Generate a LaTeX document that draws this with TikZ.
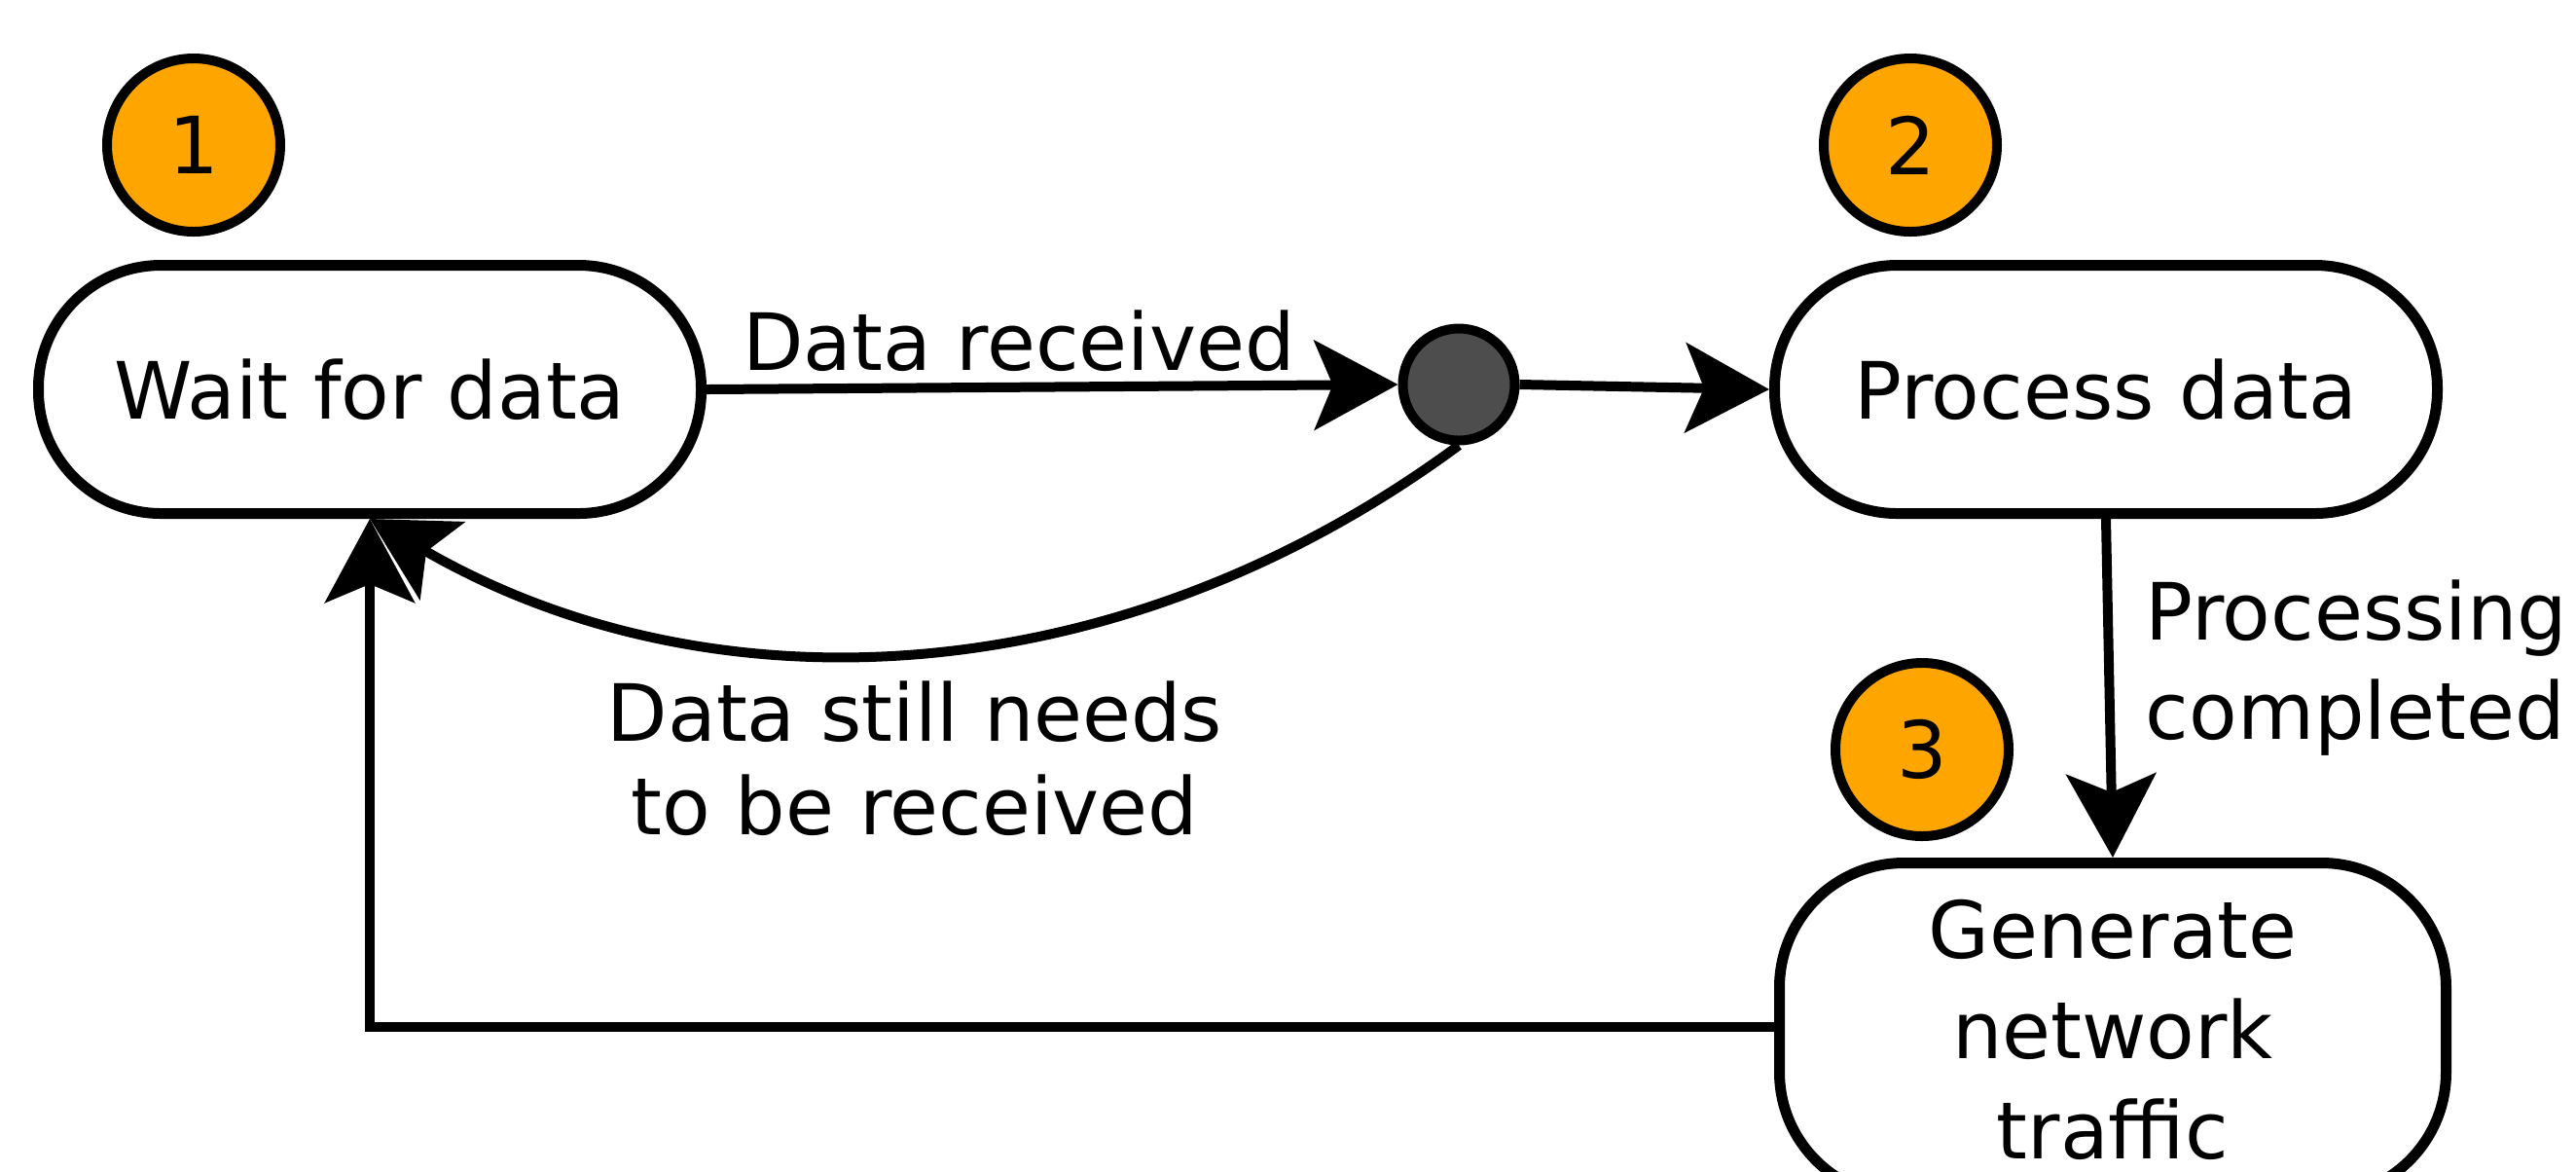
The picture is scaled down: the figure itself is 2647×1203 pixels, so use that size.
\documentclass[tikz,border=0pt]{standalone}
\usepackage{fontspec}
\setmainfont{DejaVu Sans}
\usetikzlibrary{arrows.meta}
\definecolor{badgeorange}{RGB}{255,165,0}
\definecolor{dotgray}{RGB}{77,77,77}
\begin{document}
\begin{tikzpicture}[x=0.25pt,y=-0.25pt,
  state/.style={draw, line width=2.75pt, rounded corners=31.5pt, minimum width=170.25pt, minimum height=63.75pt, inner sep=0pt, align=center, fill=white},
  badge/.style={circle, draw, line width=2.5pt, fill=badgeorange, minimum size=44.5pt, inner sep=0pt},
  junction/.style={circle, draw, line width=2.5pt, fill=dotgray, minimum size=28.75pt, inner sep=0pt},
  conn/.style={line width=2.5pt, -{Stealth[length=21.5pt,width=23pt,inset=4.75pt]}},
  lbl/.style={inner sep=0pt, align=center},
  font=\fontsize{20.3pt}{24.5pt}\selectfont]
\useasboundingbox (0,0) rectangle (2647,1203);
\clip (0,0) rectangle (2647,1203);
\node[state] (wait) at (380,400) {Wait for data};
\node[state] (proc) at (2164,400) {Process data};
\node[state, minimum height=85.75pt, minimum width=171.25pt, rounded corners=32pt, font=\fontsize{20.3pt}{25.8pt}\selectfont] (gen) at (2171,1058) {Generate\\network\\traffic};
\node[junction] (dot) at (1499,395) {};
\node[badge] (b1) at (199,149) {1};
\node[badge] (b2) at (1963,149) {2};
\node[badge] (b3) at (1975,770) {3};
\draw[conn] (wait.east) -- (dot.west);
\draw[conn] (dot.east) -- (proc.west);
\draw[conn] (proc.south) -- (gen.north);
\draw[conn] ([yshift=0.75pt]gen.west) -| (wait.south);
\draw[conn] (dot.south) .. controls +(-354,261) and +(346,200) .. (wait.south);
\node[lbl, anchor=base] (l1) at (1047,380) {Data received};
\node[lbl, font=\fontsize{20.3pt}{24pt}\selectfont] (l2) at (940,779) {Data still needs\\to be received};
\node[lbl, anchor=west, align=left, font=\fontsize{20.3pt}{25.4pt}\selectfont] (l3) at (2204,686) {Processing\\completed};
\end{tikzpicture}
\end{document}
